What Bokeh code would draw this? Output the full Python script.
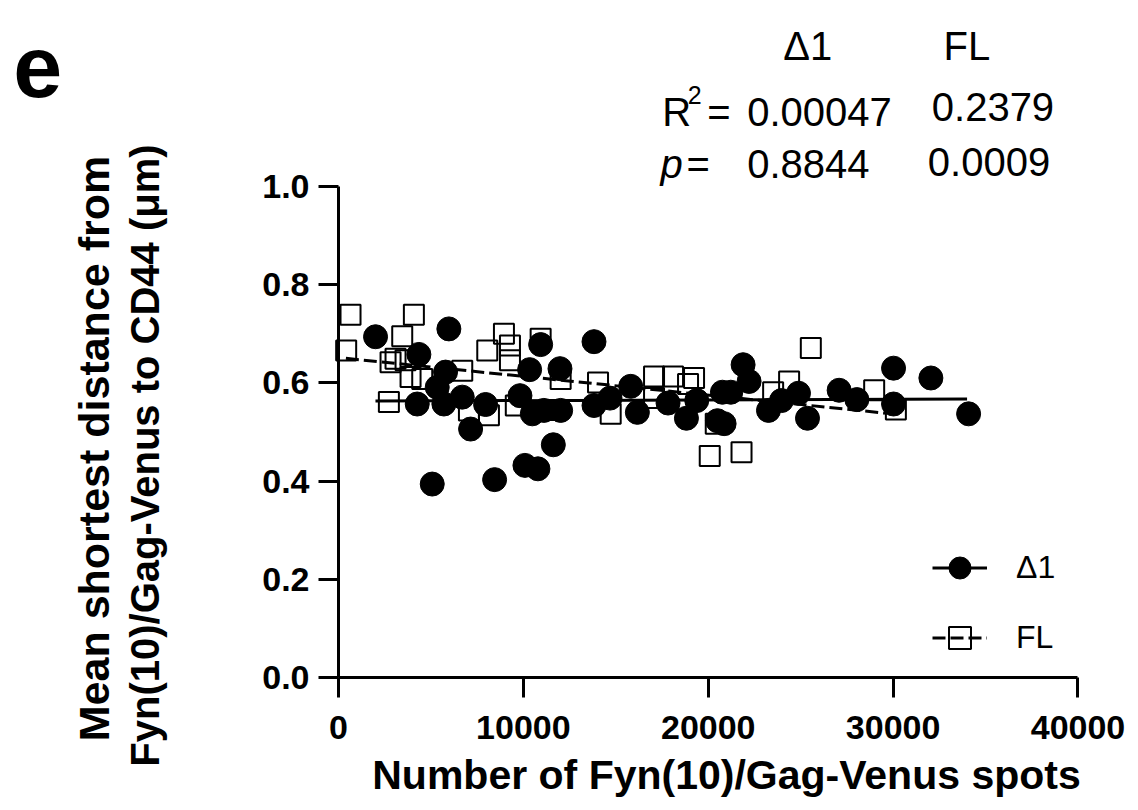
import math
from bokeh.plotting import figure
from bokeh.models import (LinearAxis, FixedTicker, PrintfTickFormatter, Range1d,
                          Label, Legend, LegendItem)
from bokeh.embed import file_html
from bokeh.resources import INLINE

# ---------------- data ----------------
d1_x = [2003, 4348, 4258, 5070, 5340, 5700, 5791, 5970, 6694, 7145, 7957, 8444,
        9815, 10084, 10338, 10483, 10787, 10934, 11110, 11620, 11980, 12016,
        13820, 13820, 14687, 15805, 16166, 17825, 18820, 19378, 20497, 20767,
        20858, 21218, 21885, 22210, 23258, 23961, 24881, 25368, 27080, 28038,
        30023, 30023, 32043, 34083]
d1_y = [0.694, 0.658, 0.557, 0.394, 0.591, 0.557, 0.622, 0.710, 0.571, 0.506, 0.556, 0.403,
        0.574, 0.432, 0.627, 0.537, 0.425, 0.678, 0.544, 0.474, 0.629, 0.544,
        0.684, 0.554, 0.569, 0.593, 0.540, 0.559, 0.528, 0.564, 0.523, 0.581,
        0.517, 0.581, 0.637, 0.603, 0.544, 0.564, 0.579, 0.528, 0.585, 0.566,
        0.630, 0.557, 0.610, 0.537]

fl_x = [415, 650, 2725, 2815, 3085, 3447, 3627, 3897, 4077, 4529, 6694, 7055,
        8047, 8137, 8949, 9274, 9274, 9590, 10934, 11692, 12016, 14038, 14723,
        17068, 17068, 18096, 18907, 19232, 20081, 20406, 21800, 23510, 24374,
        25548, 28975, 30149]
fl_y = [0.666, 0.739, 0.561, 0.642, 0.649, 0.695, 0.646, 0.612, 0.739, 0.608, 0.625, 0.544,
        0.666, 0.534, 0.700, 0.676, 0.646, 0.554, 0.690, 0.545, 0.608, 0.601, 0.537,
        0.613, 0.569, 0.613, 0.598, 0.610, 0.451, 0.517, 0.459, 0.581, 0.603,
        0.671, 0.585, 0.546]

# regression lines (end points)
d1_fit_x = [2000, 34000]
d1_fit_y = [0.563, 0.567]
fl_fit_x = [400, 29700]
fl_fit_y = [0.650, 0.538]

x_ticks = [0, 10000, 20000, 30000, 40000]
y_ticks = [0.0, 0.2, 0.4, 0.6, 0.8, 1.0]

series_names = ["\u03941", "FL"]
stats_r2 = ["0.00047", "0.2379"]
stats_p = ["0.8844", "0.0009"]

x_title = "Number of Fyn(10)/Gag-Venus spots"
y_title_1 = "Mean shortest distance from"
y_title_2 = "Fyn(10)/Gag-Venus to CD44 (\u03bcm)"

FONT = "Liberation Sans"

# the frame covers the whole canvas; axes are pinned at x=0 / y=0
p = figure(frame_width=1128, frame_height=802,
           x_range=Range1d(-18283, 42732), y_range=Range1d(-0.25458, 1.37882),
           x_axis_location=None, y_axis_location=None,
           output_backend="svg", toolbar_location=None,
           min_border=0, min_border_left=0, min_border_right=0,
           min_border_top=0, min_border_bottom=0)
p.xgrid.visible = False
p.ygrid.visible = False
p.outline_line_color = None
p.background_fill_color = "white"
p.border_fill_color = "white"

def style_axis(ax):
    ax.axis_line_width = 3
    ax.axis_line_color = "black"
    ax.major_tick_line_width = 3
    ax.major_tick_line_color = "black"
    ax.major_tick_out = 20
    ax.major_tick_in = 0
    ax.minor_tick_line_color = None
    ax.major_label_text_font = FONT
    ax.major_label_text_font_style = "bold"
    ax.major_label_text_font_size = "34px"
    ax.major_label_text_color = "black"

xa = LinearAxis(fixed_location=0, bounds=(0, 40000))
style_axis(xa)
xa.ticker = FixedTicker(ticks=x_ticks)
xa.formatter = PrintfTickFormatter(format="%d")
xa.major_label_standoff = 18
p.add_layout(xa, "below")

ya = LinearAxis(fixed_location=0, bounds=(0, 1.0))
style_axis(ya)
ya.ticker = FixedTicker(ticks=y_ticks)
ya.formatter = PrintfTickFormatter(format="%.1f")
ya.major_label_standoff = 9
p.add_layout(ya, "left")

# regression lines
r_d1_line = p.line(d1_fit_x, d1_fit_y, line_width=3, line_color="black")
r_fl_line = p.line(fl_fit_x, fl_fit_y, line_width=3, line_color="black", line_dash="13 5")
# points
r_fl = p.scatter(fl_x, fl_y, marker="square", size=20, fill_color=None,
                 line_color="black", line_width=2)
r_d1 = p.scatter(d1_x, d1_y, marker="circle", size=24, fill_color="black",
                 line_color="black")

legend = Legend(items=[LegendItem(label=series_names[0], renderers=[r_d1_line, r_d1]),
                       LegendItem(label=series_names[1], renderers=[r_fl_line, r_fl])],
                location=(932, 136), glyph_width=55, glyph_height=57, spacing=13,
                label_standoff=29, label_text_font=FONT, label_text_font_size="32px",
                label_text_color="black", padding=0, margin=0,
                border_line_color=None, background_fill_alpha=0)
p.add_layout(legend)

def add_text(x, y, text, size="40px", style="normal", align="left", angle=0.0):
    p.add_layout(Label(x=x, y=y, text=text, text_font=FONT, text_font_size=size,
                       text_font_style=style, text_color="black", angle=angle,
                       text_align=align, text_baseline="alphabetic"))

# axis titles
add_text(20987, -0.1992, x_title, size="41px", style="bold", align="center")
add_text(-13220, 0.4664, y_title_1, size="43px", style="bold", align="center", angle=math.pi / 2)
add_text(-10440, 0.4521, y_title_2, size="40px", style="bold", align="center", angle=math.pi / 2)

# panel letter and statistics
add_text(-17600, 1.2440, "e", size="88px", style="bold")
add_text(24054, 1.2867, series_names[0])
add_text(32725, 1.2867, series_names[1])
add_text(17509, 1.1509, "R")
add_text(18894, 1.1872, "2", size="25px")
add_text(19943, 1.1509, "=")
add_text(22107, 1.1509, stats_r2[0])
add_text(32091, 1.1611, stats_r2[1])
add_text(17417, 1.0464, "p", style="italic")
add_text(18823, 1.0464, "=")
add_text(22107, 1.0458, stats_p[0])
add_text(31875, 1.0491, stats_p[1])

open("out.html", "w").write(file_html(p, INLINE))
